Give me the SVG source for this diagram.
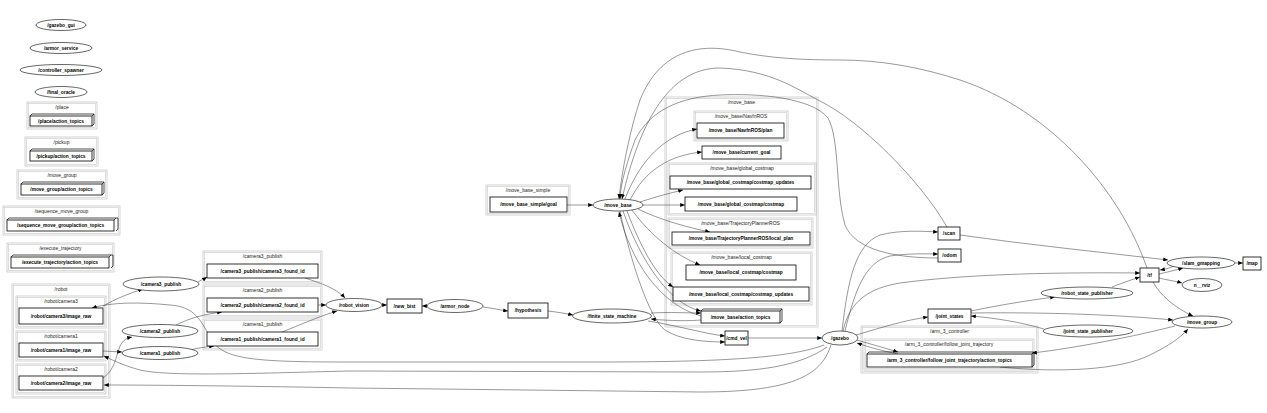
<svg xmlns="http://www.w3.org/2000/svg" width="1267" height="413" viewBox="0 0 1267 413">
<defs>
<style>
text{font-family:"Liberation Sans",Arial,sans-serif;font-size:5px;text-anchor:middle;fill:#000}
.n{font-weight:bold;font-size:4.8px}
.cl{fill:#222}
.co{fill:none;stroke:#a8a8a8;stroke-width:0.5}
.ci{fill:none;stroke:#bdbdbd;stroke-width:0.5}
.b{fill:#fff;stroke:#000;stroke-width:0.8}
.b3{fill:none;stroke:#000;stroke-width:0.7}
.e{fill:#fff;stroke:#000;stroke-width:0.6}
.ed path{fill:none;stroke:#333;stroke-width:0.5;marker-end:url(#a)}
</style>
<marker id="a" viewBox="0 0 6 5" markerWidth="5" markerHeight="4" refX="6" refY="2.5" orient="auto" markerUnits="userSpaceOnUse">
<path d="M0,0 L6,2.5 L0,5 z" fill="#000"/>
</marker>
</defs>
<rect width="1267" height="413" fill="#fff"/>

<!-- clusters -->
<g id="clusters">
<g id="cl_place"><rect class="co" x="27" y="102" width="70" height="27"/><rect class="ci" x="28.5" y="103.5" width="67" height="24"/><text class="cl" x="62" y="109">/place</text></g>
<g id="cl_pickup"><rect class="co" x="25" y="137" width="73" height="29"/><rect class="ci" x="26.5" y="138.5" width="70" height="26"/><text class="cl" x="61.5" y="144">/pickup</text></g>
<g id="cl_move_group"><rect class="co" x="17" y="170" width="90" height="29"/><rect class="ci" x="18.5" y="171.5" width="87" height="26"/><text class="cl" x="62" y="177">/move_group</text></g>
<g id="cl_seq"><rect class="co" x="3" y="206" width="117" height="29"/><rect class="ci" x="4.5" y="207.5" width="114" height="26"/><text class="cl" x="61.5" y="213">/sequence_move_group</text></g>
<g id="cl_exec"><rect class="co" x="7" y="243" width="107" height="29"/><rect class="ci" x="8.5" y="244.5" width="104" height="26"/><text class="cl" x="60.5" y="250">/execute_trajectory</text></g>
<g id="cl_robot"><rect class="co" x="12" y="284" width="98" height="114"/><rect class="ci" x="13.5" y="285.5" width="95" height="111"/><text class="cl" x="61" y="291">/robot</text>
<rect class="co" x="16" y="296" width="90" height="32"/><rect class="ci" x="17.5" y="297.5" width="87" height="29"/><text class="cl" x="61" y="303">/robot/camera3</text>
<rect class="co" x="16" y="331" width="90" height="30"/><rect class="ci" x="17.5" y="332.5" width="87" height="27"/><text class="cl" x="61" y="338">/robot/camera1</text>
<rect class="co" x="16" y="364" width="90" height="30"/><rect class="ci" x="17.5" y="365.5" width="87" height="27"/><text class="cl" x="61" y="371">/robot/camera2</text></g>
<g id="cl_cam3"><rect class="co" x="203" y="251" width="119" height="32"/><rect class="ci" x="204.5" y="252.5" width="116" height="29"/><text class="cl" x="262.5" y="258">/camera3_publish</text></g>
<g id="cl_cam2"><rect class="co" x="203" y="285" width="119" height="32"/><rect class="ci" x="204.5" y="286.5" width="116" height="29"/><text class="cl" x="262.5" y="292">/camera2_publish</text></g>
<g id="cl_cam1"><rect class="co" x="203" y="319" width="119" height="31"/><rect class="ci" x="204.5" y="320.5" width="116" height="28"/><text class="cl" x="262.5" y="326">/camera1_publish</text></g>
<g id="cl_mbs"><rect class="co" x="486" y="185" width="84" height="30"/><rect class="ci" x="487.5" y="186.5" width="81" height="27"/><text class="cl" x="528" y="192">/move_base_simple</text></g>
<g id="cl_move_base"><rect class="co" x="665" y="97" width="153" height="230"/><rect class="ci" x="666.5" y="98.5" width="150" height="227"/><text class="cl" x="741.5" y="104">/move_base</text>
<rect class="co" x="694" y="111" width="94" height="30"/><rect class="ci" x="695.5" y="112.5" width="91" height="27"/><text class="cl" x="741" y="117.5">/move_base/NavfnROS</text>
<rect class="co" x="668" y="163" width="148" height="52"/><rect class="ci" x="669.5" y="164.5" width="145" height="49"/><text class="cl" x="742" y="170">/move_base/global_costmap</text>
<rect class="co" x="668" y="218" width="145" height="30"/><rect class="ci" x="669.5" y="219.5" width="142" height="27"/><text class="cl" x="740.5" y="225">/move_base/TrajectoryPlannerROS</text>
<rect class="co" x="671" y="252" width="141" height="53"/><rect class="ci" x="672.5" y="253.5" width="138" height="50"/><text class="cl" x="741.5" y="259">/move_base/local_costmap</text></g>
<g id="cl_arm"><rect class="co" x="861" y="326" width="177" height="47"/><rect class="ci" x="862.5" y="327.5" width="174" height="44"/><text class="cl" x="949.5" y="333">/arm_3_controller</text>
<rect class="co" x="864" y="339" width="170" height="31"/><rect class="ci" x="865.5" y="340.5" width="167" height="28"/><text class="cl" x="949" y="346">/arm_3_controller/follow_joint_trajectory</text></g>
</g>

<!-- connectors -->
<g id="connectors" class="ed">
<path d="M103,306 C115,299 130,293 143,289"/>
<path d="M824,345 C790,358 720,362 600,362 L350,362 C260,362 226,360 213,342 C200,320 196,307 170,305 C140,302 112,302 92,308"/>
<path d="M103,351 L122,352"/>
<path d="M103,378 C115,370 116,356 120,346 C123,340 127,338 132,337"/>
<path d="M827,347 C800,366 760,372 700,372 L350,371 C260,373 170,377 140,370 C125,366 112,360 104,356"/>
<path d="M831,345 C822,372 800,392 700,392 L350,388 C250,386 150,385 104,385"/>
<path d="M198,282 C201,280 204,279 207,277"/>
<path d="M176,325 C190,318 205,314 222,312"/>
<path d="M190,350 C198,348 205,347 214,346"/>
<path d="M305,278 C320,283 336,288 345,298"/>
<path d="M318,305 L326,305"/>
<path d="M282,332 C300,325 320,316 337,311"/>
<path d="M382,305 L387,305"/>
<path d="M427,306 L422,306"/>
<path d="M483,307 C492,308 500,310 508,311"/>
<path d="M548,311 C556,312 564,313 573,315"/>
<path d="M567,205 L593,205"/>
<path d="M651,313 C670,312 688,313 701,313"/>
<path d="M701,320 C690,321 670,321 651,319"/>
<path d="M648,321 C680,326 705,334 725,336"/>
<path d="M620,211 C630,260 650,320 665,330 C680,340 705,342 725,342"/>
<path d="M625,199 C640,160 665,135 697,129"/>
<path d="M630,200 C645,170 670,155 702,152"/>
<path d="M640,202 C655,197 670,193 683,190"/>
<path d="M643,205 L685,205"/>
<path d="M638,209 C660,220 690,228 710,232"/>
<path d="M632,210 C650,235 675,255 700,265"/>
<path d="M627,211 C640,245 655,275 673,287"/>
<path d="M623,211 C640,260 670,305 701,311"/>
<path d="M701,316 C660,305 630,260 619,212"/>
<path d="M1147,268 C1120,190 1050,110 960,80 C920,67 880,60 840,60 C800,60 770,58 740,52 C700,42 660,50 640,100 C630,130 622,170 619,199"/>
<path d="M947,227 C920,180 860,120 818,100 C795,88 770,70 720,68 C670,68 640,120 622,199"/>
<path d="M938,258 C895,258 855,250 845,225 C835,190 840,140 828,118 C812,98 760,93 720,95 C680,97 650,110 635,140 C628,160 621,180 620,199"/>
<path d="M842,331 C848,280 855,245 880,235 C900,230 920,231 938,232"/>
<path d="M845,331 C855,290 865,262 890,256 C910,253 925,254 938,254"/>
<path d="M843,331 C850,300 870,288 900,283 C960,275 1040,272 1140,273"/>
<path d="M856,335 C880,328 905,320 928,317"/>
<path d="M857,340 C870,344 885,348 898,352"/>
<path d="M898,354 C883,351 868,347 857,343"/>
<path d="M748,338 L822,338"/>
<path d="M960,235 C1030,245 1100,252 1168,260"/>
<path d="M1159,274 C1168,272 1176,270 1183,268"/>
<path d="M1174,266 C1170,268 1166,269 1160,270"/>
<path d="M1159,278 C1167,280 1175,281 1182,283"/>
<path d="M1235,263 L1243,263"/>
<path d="M1112,287 C1122,283 1131,280 1140,277"/>
<path d="M1153,282 C1160,295 1175,308 1193,316"/>
<path d="M971,313 C1050,312 1120,315 1173,320"/>
<path d="M971,311 C1000,305 1030,300 1055,297"/>
<path d="M1044,329 C1020,322 995,318 971,316"/>
<path d="M1175,326 C1120,340 1060,350 1032,353"/>
<path d="M1000,367 C1060,373 1120,370 1150,355 C1170,345 1180,338 1188,329"/>
</g>

<!-- nodes -->
<g id="n_gazebo_gui"><ellipse class="e" cx="61" cy="25" rx="25" ry="5.5"/><text class="n" x="61" y="26.7">/gazebo_gui</text></g>
<g id="n_armor_service"><ellipse class="e" cx="61" cy="48" rx="31" ry="5.5"/><text class="n" x="61" y="49.7">/armor_service</text></g>
<g id="n_controller_spawner"><ellipse class="e" cx="61" cy="70" rx="41" ry="5.5"/><text class="n" x="61" y="71.7">/controller_spawner</text></g>
<g id="n_final_oracle"><ellipse class="e" cx="61" cy="92" rx="26" ry="5.5"/><text class="n" x="61" y="93.7">/final_oracle</text></g>

<g id="n_place_at"><path class="b3" d="M30,116 l2,-2 h62 v10 l-2,2 M92,116 l2,-2"/><rect class="b" x="30" y="116" width="62" height="10"/><text class="n" x="61" y="122.7">/place/action_topics</text></g>
<g id="n_pickup_at"><path class="b3" d="M30,151 l2,-2 h62 v10 l-2,2 M92,151 l2,-2"/><rect class="b" x="30" y="151" width="62" height="10"/><text class="n" x="61" y="157.7">/pickup/action_topics</text></g>
<g id="n_move_group_at"><path class="b3" d="M21,184 l2,-2 h81 v11 l-2,2 M102,184 l2,-2"/><rect class="b" x="21" y="184" width="81" height="11"/><text class="n" x="61.5" y="191.2">/move_group/action_topics</text></g>
<g id="n_seq_at"><path class="b3" d="M7,220 l2,-2 h109 v11 l-2,2 M114,220 l2,-2"/><rect class="b" x="7" y="220" width="107" height="11"/><text class="n" x="60.5" y="227.2">/sequence_move_group/action_topics</text></g>
<g id="n_exec_at"><path class="b3" d="M11,257 l2,-2 h100 v11 l-2,2 M109,257 l2,-2"/><rect class="b" x="11" y="257" width="98" height="11"/><text class="n" x="60" y="264.2">/execute_trajectory/action_topics</text></g>

<g id="n_cam3_img"><rect class="b" x="19" y="308" width="84" height="16"/><text class="n" x="61" y="317.7">/robot/camera3/image_raw</text></g>
<g id="n_cam1_img"><rect class="b" x="19" y="343" width="84" height="14"/><text class="n" x="61" y="351.7">/robot/camera1/image_raw</text></g>
<g id="n_cam2_img"><rect class="b" x="19" y="376" width="84" height="14"/><text class="n" x="61" y="384.7">/robot/camera2/image_raw</text></g>

<g id="n_camera3_publish"><ellipse class="e" cx="161" cy="284" rx="38" ry="7"/><text class="n" x="161" y="285.7">/camera3_publish</text></g>
<g id="n_camera2_publish"><ellipse class="e" cx="160" cy="331" rx="38" ry="6.5"/><text class="n" x="160" y="332.7">/camera2_publish</text></g>
<g id="n_camera1_publish"><ellipse class="e" cx="160" cy="353" rx="38" ry="6.5"/><text class="n" x="160" y="354.7">/camera1_publish</text></g>

<g id="n_cam3_found"><rect class="b" x="207" y="264" width="111" height="14"/><text class="n" x="262.5" y="272.7">/camera3_publish/camera3_found_id</text></g>
<g id="n_cam2_found"><rect class="b" x="207" y="298" width="111" height="14"/><text class="n" x="262.5" y="306.7">/camera2_publish/camera2_found_id</text></g>
<g id="n_cam1_found"><rect class="b" x="207" y="332" width="111" height="14"/><text class="n" x="262.5" y="340.7">/camera1_publish/camera1_found_id</text></g>

<g id="n_robot_vision"><ellipse class="e" cx="354" cy="305" rx="28" ry="6.5"/><text class="n" x="354" y="306.7">/robot_vision</text></g>
<g id="n_new_bist"><rect class="b" x="387" y="299" width="35" height="14"/><text class="n" x="404.5" y="307.7">/new_bist</text></g>
<g id="n_armor_node"><ellipse class="e" cx="455" cy="306" rx="28" ry="6.5"/><text class="n" x="455" y="307.7">/armor_node</text></g>
<g id="n_hypothesis"><rect class="b" x="508" y="303" width="40" height="15"/><text class="n" x="528" y="312.2">/hypothesis</text></g>
<g id="n_fsm"><ellipse class="e" cx="612" cy="316" rx="39.5" ry="7"/><text class="n" x="612" y="317.7">/finite_state_machine</text></g>
<g id="n_mbs_goal"><rect class="b" x="490" y="197" width="77" height="15"/><text class="n" x="528.5" y="206.2">/move_base_simple/goal</text></g>
<g id="n_move_base"><ellipse class="e" cx="618" cy="205" rx="25" ry="6"/><text class="n" x="618" y="206.7">/move_base</text></g>

<g id="n_navfn_plan"><rect class="b" x="697" y="123" width="87" height="15"/><text class="n" x="740.5" y="132.2">/move_base/NavfnROS/plan</text></g>
<g id="n_current_goal"><rect class="b" x="702" y="146" width="79" height="13"/><text class="n" x="741.5" y="154.2">/move_base/current_goal</text></g>
<g id="n_gc_updates"><rect class="b" x="670" y="176" width="141" height="13"/><text class="n" x="740.5" y="184.2">/move_base/global_costmap/costmap_updates</text></g>
<g id="n_gc_costmap"><rect class="b" x="685" y="197" width="112" height="14"/><text class="n" x="741" y="205.7">/move_base/global_costmap/costmap</text></g>
<g id="n_local_plan"><rect class="b" x="672" y="232" width="138" height="13"/><text class="n" x="741" y="240.2">/move_base/TrajectoryPlannerROS/local_plan</text></g>
<g id="n_lc_costmap"><rect class="b" x="686" y="265" width="110" height="15"/><text class="n" x="741" y="274.2">/move_base/local_costmap/costmap</text></g>
<g id="n_lc_updates"><rect class="b" x="673" y="287" width="136" height="14"/><text class="n" x="741" y="295.7">/move_base/local_costmap/costmap_updates</text></g>
<g id="n_mb_at"><path class="b3" d="M701,311 l2,-2 h79 v12 l-2,2 M780,311 l2,-2"/><rect class="b" x="701" y="311" width="79" height="12"/><text class="n" x="740.5" y="318.7">/move_base/action_topics</text></g>
<g id="n_cmd_vel"><rect class="b" x="725" y="331" width="23" height="14"/><text class="n" x="736.5" y="339.7">/cmd_vel</text></g>

<g id="n_gazebo"><ellipse class="e" cx="840" cy="338" rx="18" ry="7"/><text class="n" x="840" y="339.7">/gazebo</text></g>
<g id="n_scan"><rect class="b" x="938" y="227" width="22" height="13"/><text class="n" x="949" y="235.2">/scan</text></g>
<g id="n_odom"><rect class="b" x="938" y="249" width="23" height="13"/><text class="n" x="949.5" y="257.2">/odom</text></g>
<g id="n_joint_states"><rect class="b" x="928" y="309" width="43" height="14"/><text class="n" x="949.5" y="317.7">/joint_states</text></g>
<g id="n_arm_at"><path class="b3" d="M867,354 l2,-2 h165 v13 l-2,2 M1032,354 l2,-2"/><rect class="b" x="867" y="354" width="165" height="13"/><text class="n" x="949.5" y="362.2">/arm_3_controller/follow_joint_trajectory/action_topics</text></g>

<g id="n_tf"><rect class="b" x="1140" y="268" width="19" height="14"/><text class="n" x="1149.5" y="276.7">/tf</text></g>
<g id="n_slam"><ellipse class="e" cx="1201" cy="263" rx="34" ry="6"/><text class="n" x="1201" y="264.7">/slam_gmapping</text></g>
<g id="n_map"><rect class="b" x="1243" y="257" width="18" height="13"/><text class="n" x="1252" y="265.2">/map</text></g>
<g id="n_rviz"><ellipse class="e" cx="1202" cy="285" rx="20" ry="6.5"/><text class="n" x="1202" y="286.7">n__rviz</text></g>
<g id="n_rsp"><ellipse class="e" cx="1087" cy="293" rx="46" ry="6"/><text class="n" x="1087" y="294.7">/robot_state_publisher</text></g>
<g id="n_jsp"><ellipse class="e" cx="1088" cy="331" rx="45" ry="6"/><text class="n" x="1088" y="332.7">/joint_state_publisher</text></g>
<g id="n_move_group"><ellipse class="e" cx="1202" cy="322" rx="30" ry="6"/><text class="n" x="1202" y="323.7">/move_group</text></g>
</svg>
